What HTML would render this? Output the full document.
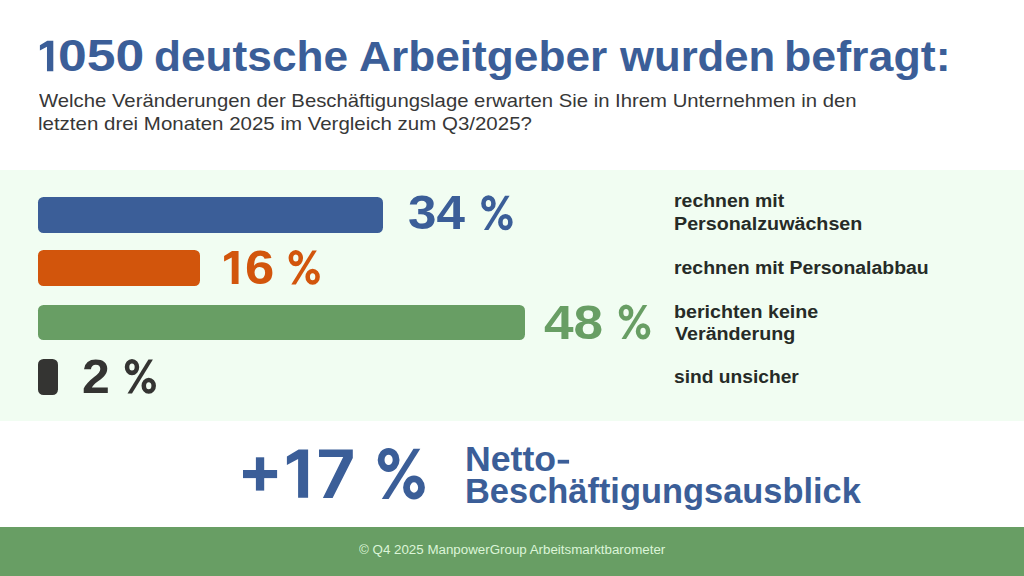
<!DOCTYPE html>
<html>
<head>
<meta charset="utf-8">
<style>
html,body{margin:0;padding:0;}
body{width:1024px;height:576px;position:relative;overflow:hidden;background:#ffffff;font-family:"Liberation Sans",sans-serif;}
.t{position:absolute;white-space:nowrap;line-height:1;transform-origin:0 0;}
.r{position:absolute;}
svg{position:absolute;left:0;top:0;}
</style>
</head>
<body>
<div class="r" style="left:0;top:170px;width:1024px;height:250.5px;background:#f1fdf2"></div>
<div class="r" style="left:37.9px;top:196.9px;width:344.8px;height:35.8px;border-radius:5.5px;background:#3b5e98"></div>
<div class="r" style="left:37.9px;top:250px;width:162.2px;height:35.6px;border-radius:5.5px;background:#d2550c"></div>
<div class="r" style="left:37.9px;top:304.8px;width:487px;height:35.3px;border-radius:5.5px;background:#689e64"></div>
<div class="r" style="left:37.9px;top:359.4px;width:19.8px;height:35.4px;border-radius:5.5px;background:#343432"></div>
<div class="r" style="left:0;top:527px;width:1024px;height:49px;background:#689e64"></div>
<div class="t" style="left:58.18px;top:34px;font-size:44.5px;font-weight:bold;color:#3b5e98;transform:scaleX(1.1614)">050</div>
<div class="t" style="left:153.84px;top:35px;font-size:43px;font-weight:bold;color:#3b5e98;transform:scaleX(1.0281)">deutsche</div>
<div class="t" style="left:358.67px;top:35px;font-size:43px;font-weight:bold;color:#3b5e98;transform:scaleX(1.0288)">Arbeitgeber</div>
<div class="t" style="left:620.30px;top:35px;font-size:43px;font-weight:bold;color:#3b5e98;transform:scaleX(1.0153)">wurden</div>
<div class="t" style="left:784.18px;top:35px;font-size:43px;font-weight:bold;color:#3b5e98;transform:scaleX(1.0405)">befragt:</div>
<div class="t" style="left:39.00px;top:91px;font-size:19.0px;color:#373737;transform:scaleX(1.0681)">Welche Veränderungen der Beschäftigungslage erwarten Sie in Ihrem Unternehmen in den</div>
<div class="t" style="left:37.92px;top:114px;font-size:19.0px;color:#373737;transform:scaleX(1.0775)">letzten drei Monaten 2025 im Vergleich zum Q3/2025?</div>
<div class="t" style="left:407.52px;top:189px;font-size:47.5px;font-weight:bold;color:#3b5e98;transform:scaleX(1.0769)">34</div>
<div class="t" style="left:244.68px;top:244px;font-size:47.5px;font-weight:bold;color:#d2550c;transform:scaleX(1.1087)">6</div>
<div class="t" style="left:544.18px;top:299px;font-size:47.5px;font-weight:bold;color:#689e64;transform:scaleX(1.1196)">48</div>
<div class="t" style="left:81.90px;top:353px;font-size:47.5px;font-weight:bold;color:#343432;transform:scaleX(1.0522)">2</div>
<div class="t" style="left:674.26px;top:192px;font-size:18.8px;font-weight:bold;color:#262b27;transform:scaleX(1.0352)">rechnen mit</div>
<div class="t" style="left:674.25px;top:215px;font-size:18.8px;font-weight:bold;color:#262b27;transform:scaleX(1.0492)">Personalzuwächsen</div>
<div class="t" style="left:674.27px;top:259px;font-size:18.8px;font-weight:bold;color:#262b27;transform:scaleX(1.0340)">rechnen mit Personalabbau</div>
<div class="t" style="left:674.25px;top:303px;font-size:18.8px;font-weight:bold;color:#262b27;transform:scaleX(1.0471)">berichten keine</div>
<div class="t" style="left:675.30px;top:325px;font-size:18.8px;font-weight:bold;color:#262b27;transform:scaleX(1.0474)">Veränderung</div>
<div class="t" style="left:674.28px;top:368px;font-size:18.8px;font-weight:bold;color:#262b27;transform:scaleX(1.0223)">sind unsicher</div>
<div class="t" style="left:464.83px;top:442px;font-size:34.5px;font-weight:bold;color:#3b5e98;transform:scaleX(1.0329)">Netto</div>
<div class="t" style="left:464.91px;top:474px;font-size:34.5px;font-weight:bold;color:#3b5e98;transform:scaleX(0.9975)">Beschäftigungsausblick</div>
<div class="t" style="left:358.90px;top:543px;font-size:13.7px;color:#dcf5d8;transform:scaleX(0.9742)">© Q4 2025 ManpowerGroup Arbeitsmarktbarometer</div>
<svg width="1024" height="576" viewBox="0 0 1024 576"><polygon fill="#3b5e98" points="47.30,40.70 53.30,40.70 53.30,71.30 46.98,71.30 46.98,46.83 39.90,50.50 39.90,45.25"/><polygon fill="#d2550c" points="232.08,251.00 238.55,251.00 238.55,284.00 231.74,284.00 231.74,257.61 224.10,261.57 224.10,255.91"/><polygon fill="#3b5e98" points="298.60,449.40 308.10,449.40 308.10,497.80 298.10,497.80 298.10,459.10 286.90,464.90 286.90,456.60"/><rect x="557.7" y="459.8" width="11.4" height="3.8" fill="#3b5e98"/><polygon fill="#3b5e98" points="319.0,449.5 352.8,449.5 352.8,458.1 332.6,497.9 322.9,497.9 343.2,457.1 319.0,457.1"/><rect x="243" y="470" width="34.1" height="8.1" fill="#3b5e98"/><rect x="255.9" y="457.3" width="8.3" height="33.3" fill="#3b5e98"/><ellipse cx="488.46" cy="203.44" rx="4.99" ry="5.83" fill="none" stroke="#3b5e98" stroke-width="4.57"/><ellipse cx="505.37" cy="222.16" rx="4.99" ry="5.83" fill="none" stroke="#3b5e98" stroke-width="4.57"/><polygon fill="#3b5e98" points="483.93,229.89 488.46,229.89 509.57,195.84 505.04,195.84"/><ellipse cx="295.81" cy="258.04" rx="4.96" ry="5.83" fill="none" stroke="#d2550c" stroke-width="4.56"/><ellipse cx="312.62" cy="276.76" rx="4.96" ry="5.83" fill="none" stroke="#d2550c" stroke-width="4.56"/><polygon fill="#d2550c" points="291.31,284.49 295.81,284.49 316.79,250.44 312.29,250.44"/><ellipse cx="626.08" cy="312.64" rx="5.01" ry="5.83" fill="none" stroke="#689e64" stroke-width="4.58"/><ellipse cx="643.05" cy="331.36" rx="5.01" ry="5.83" fill="none" stroke="#689e64" stroke-width="4.58"/><polygon fill="#689e64" points="621.54,339.09 626.08,339.09 647.26,305.04 642.72,305.04"/><ellipse cx="131.99" cy="367.04" rx="4.95" ry="5.83" fill="none" stroke="#343432" stroke-width="4.55"/><ellipse cx="148.74" cy="385.76" rx="4.95" ry="5.83" fill="none" stroke="#343432" stroke-width="4.55"/><polygon fill="#343432" points="127.50,393.49 131.99,393.49 152.90,359.44 148.41,359.44"/><ellipse cx="388.60" cy="459.90" rx="7.50" ry="8.60" fill="none" stroke="#3b5e98" stroke-width="6.80"/><ellipse cx="414.00" cy="487.50" rx="7.50" ry="8.60" fill="none" stroke="#3b5e98" stroke-width="6.80"/><polygon fill="#3b5e98" points="381.80,498.90 388.60,498.90 420.30,448.70 413.50,448.70"/></svg>
</body>
</html>
